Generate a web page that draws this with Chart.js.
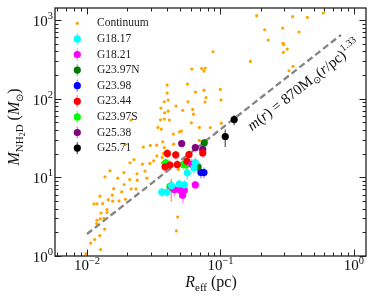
<!DOCTYPE html>
<html lang="en">
<head>
<meta charset="UTF-8">
<title>NH2D mass vs effective radius</title>
<script src="https://cdn.jsdelivr.net/npm/chart.js"></script>
<style>
    html, body { margin: 0; padding: 0; background: #fff; }
    #wrap { width: 374px; height: 302px; }
</style>
</head>
<body>
<div id="wrap"><canvas id="chart" width="374" height="302"></canvas></div>
<script>
// continuum cores: [R_eff (pc), M (Msun)]
const continuum = [
    [0.1867,1131],[0.3474,1098],[0.4470,1079],[0.5888,1224],[0.2923,788],[0.2144,750],[0.3873,702],
    [0.2281,555],[0.2938,504],[0.2974,486],[0.3165,426],[0.2953,387],[0.0879,394],[0.1677,297],
    [0.3493,257],[0.3260,226],[0.0609,237],[0.0723,241],[0.0769,244],[0.0752,224],[0.0566,153],
    [0.0398,148.5],[0.0650,121],[0.0752,128],[0.0997,131],[0.0398,117.5],[0.0779,103],[0.0766,90.3],
    [0.1009,96.3],[0.0406,95.7],[0.0379,91.1],[0.0571,91.1],[0.0358,75.7],[0.0464,80.3],[0.0521,71.0],
    [0.0619,72.9],[0.0628,63.5],[0.0382,66.0],[0.0406,69.3],[0.0605,49.2],[0.0694,43.0],[0.0839,42.8],
    [0.1014,48.8],[0.0694,29.4],[0.0509,38.6],[0.0355,53.7],[0.0379,54.9],[0.0414,53.3],[0.0340,43.0],
    [0.0360,40.9],[0.0214,53.3],[0.0444,35.4],[0.0493,37.8],[0.0446,26.4],[0.0333,25.6],[0.0379,23.9],
    [0.0264,24.2],[0.0298,25.4],[0.0194,26.2],[0.0369,28.2],[0.0210,15.3],[0.0225,16.8],[0.0260,14.7],
    [0.0316,16.2],[0.0366,17.9],[0.0366,15.3],[0.0334,18.7],[0.0373,20.1],[0.0296,15.0],[0.0237,11.1],
    [0.0272,12.0],[0.0238,9.19],[0.0281,9.74],[0.0483,12.6],[0.01487,12.1],[0.01364,10.1],[0.0170,9.74],
    [0.0189,11.5],[0.0209,9.38],[0.0190,8.10],[0.01585,7.16],[0.0214,7.12],[0.0233,7.12],[0.01547,5.92],
    [0.01251,5.75],[0.0182,6.52],[0.01444,5.19],[0.01558,4.97],[0.01737,5.01],[0.0194,5.26],[0.01311,4.64],
    [0.01128,4.59],[0.01188,4.61],[0.01412,3.89],[0.01412,3.57],[0.01273,3.52],[0.01188,2.85],[0.01258,2.96],
    [0.01341,3.02],[0.01182,2.58],[0.01357,2.19],[0.01245,1.82],[0.01142,1.62],[0.01066,1.46],[0.01266,1.21],
    [0.00983,1.07],[0.0478,3.13],[0.0467,2.08]
];

// NH2D cores: [R_eff, M, M_low, M_high]
const g1817 = [[0.0648,15.4,12.8,18.0],[0.0633,13.2,11.0,15.5],[0.0564,11.4,9.2,13.5],[0.0363,6.5,5.6,7.4],
               [0.0398,6.5,5.6,7.4],[0.0430,7.8,6.6,9.0],[0.0491,8.2,7.0,9.4],[0.0537,8.0,6.8,9.2]];
const g1821 = [[0.0609,14.6,11.8,17.2],[0.0648,8.0,7.0,9.0],[0.0452,7.0,5.7,8.3],[0.0497,6.9,5.5,8.0],
               [0.0536,6.9,5.8,8.0],[0.0521,5.9,4.7,7.0]];
const g2397N = [[0.0756,27.4,24.5,30.5],[0.0679,13.6,11.8,15.4]];
const g2398 = [[0.0714,11.5,9.7,13.3],[0.0752,11.5,9.7,13.3]];
const g2344 = [[0.0400,20.1,17.5,22.7],[0.0462,19.3,16.8,21.8],[0.0581,19.5,17.0,22.0],[0.0736,20.4,17.8,23.0],
               [0.0384,13.6,11.6,15.6],[0.0418,14.3,12.2,16.4],[0.0475,14.5,12.4,16.6],[0.0561,16.0,13.7,18.3],
               [0.0428,7.4,4.9,9.5]];
const g2397S = [[0.0389,15.3,13.0,17.6],[0.0526,14.5,12.5,16.5],[0.0552,14.4,12.4,16.4],[0.0418,7.7,6.6,8.8]];
const g2538 = [[0.0512,26.9,24.0,29.8],[0.0648,23.8,21.2,26.4],[0.0736,22.6,20.2,25.0]];
const g2571 = [[0.1266,54.1,46.0,61.7],[0.1086,33.0,24.3,40.5]];

const groupNames = ['G18.17', 'G18.21', 'G23.97N', 'G23.98', 'G23.44', 'G23.97S', 'G25.38', 'G25.71'];
const groupData = [g1817, g1821, g2397N, g2398, g2344, g2397S, g2538, g2571];
const groupColors = ['#00ffff', '#ff00ff', '#007a00', '#0000ff', '#ff0000', '#00ff00', '#800080', '#000000'];
const groupErrColors = ['rgba(0,200,220,0.45)', 'rgba(255,0,255,0.4)', 'rgba(0,122,0,0.4)', 'rgba(0,0,255,0.4)',
                        'rgba(255,0,0,0.4)', 'rgba(0,220,0,0.4)', 'rgba(128,0,128,0.4)', 'rgba(0,0,0,0.55)'];

// m(r) = 870 Msun (r/pc)^1.33
const fitCoef = 870;
const fitIndex = 1.33;
const fitRange = [0.01, 0.8];

const xMajor = [0.01, 0.1, 1];
const xExp = ['\u22122', '\u22121', '0'];
const yMajor = [1, 10, 100, 1000];
const yExp = ['0', '1', '2', '3'];

const SERIF = "'Liberation Serif', 'Times New Roman', serif";

function richWidth(ctx, parts) {
    let w = 0;
    parts.forEach(p => { ctx.font = p.f; w += ctx.measureText(p.t).width; });
    return w;
}
function drawRich(ctx, parts, x, y) {
    parts.forEach(p => {
        ctx.font = p.f;
        ctx.fillText(p.t, x, y + (p.dy || 0));
        x += ctx.measureText(p.t).width;
    });
}

// vertical error bars, below the markers
const errorBars = {
    id: 'errorBars',
    beforeDatasetsDraw(chart) {
        const {ctx, chartArea: a, scales: {x, y}} = chart;
        ctx.save();
        ctx.beginPath();
        ctx.rect(a.left, a.top, a.right - a.left, a.bottom - a.top);
        ctx.clip();
        ctx.lineWidth = 1.5;
        chart.data.datasets.forEach(ds => {
            if (!ds.lo) return;
            ctx.strokeStyle = ds.errColor;
            ds.data.forEach((p, i) => {
                const px = x.getPixelForValue(p.x);
                ctx.beginPath();
                ctx.moveTo(px, y.getPixelForValue(ds.lo[i]));
                ctx.lineTo(px, y.getPixelForValue(ds.hi[i]));
                ctx.stroke();
            });
        });
        ctx.restore();
    }
};

// frame, inward ticks, tick labels, axis titles, relation label
const frame = {
    id: 'frame',
    afterDraw(chart) {
        const {ctx, chartArea: a, scales: {x, y}} = chart;
        ctx.save();
        ctx.strokeStyle = '#222';
        ctx.lineWidth = 1.3;
        ctx.strokeRect(a.left, a.top, a.right - a.left, a.bottom - a.top);

        ctx.lineWidth = 1;
        const xTicks = [], yTicks = [];
        [0.001, 0.01, 0.1, 1].forEach(d => {
            for (let k = 1; k < 10; k++) xTicks.push([d * k, k === 1]);
        });
        [1, 10, 100, 1000].forEach(d => {
            for (let k = 1; k < 10; k++) yTicks.push([d * k, k === 1]);
        });
        xTicks.forEach(([v, major]) => {
            if (v < x.min || v > x.max) return;
            const px = Math.round(x.getPixelForValue(v)) + 0.5;
            const len = major ? 6.5 : 3.5;
            ctx.beginPath();
            ctx.moveTo(px, a.bottom); ctx.lineTo(px, a.bottom - len);
            ctx.moveTo(px, a.top); ctx.lineTo(px, a.top + len);
            ctx.stroke();
        });
        yTicks.forEach(([v, major]) => {
            if (v < y.min || v > y.max) return;
            const py = Math.round(y.getPixelForValue(v)) + 0.5;
            const len = major ? 6.5 : 3.5;
            ctx.beginPath();
            ctx.moveTo(a.left, py); ctx.lineTo(a.left + len, py);
            ctx.moveTo(a.right, py); ctx.lineTo(a.right - len, py);
            ctx.stroke();
        });

        ctx.fillStyle = '#111';
        ctx.textBaseline = 'alphabetic';
        ctx.textAlign = 'left';
        xMajor.forEach((v, i) => {
            const parts = [{t: '10', f: '15px ' + SERIF}, {t: xExp[i], f: '10.5px ' + SERIF, dy: -6}];
            const w = richWidth(ctx, parts);
            drawRich(ctx, parts, x.getPixelForValue(v) - w / 2, a.bottom + 14);
        });
        yMajor.forEach((v, i) => {
            const parts = [{t: '10', f: '15px ' + SERIF}, {t: yExp[i], f: '10.5px ' + SERIF, dy: -7}];
            const w = richWidth(ctx, parts);
            drawRich(ctx, parts, a.left - 2 - w, y.getPixelForValue(v) + 6);
        });

        // x title
        const xt = [{t: 'R', f: 'italic 16px ' + SERIF}, {t: 'eff', f: '11px ' + SERIF, dy: 3.5},
                    {t: ' (pc)', f: '16px ' + SERIF}];
        drawRich(ctx, xt, 211 - richWidth(ctx, xt) / 2, 287);

        // y title
        const yt = [{t: 'M', f: 'italic 16px ' + SERIF}, {t: 'NH', f: '11px ' + SERIF, dy: 3.5},
                    {t: '2', f: '8px ' + SERIF, dy: 6}, {t: 'D', f: '11px ' + SERIF, dy: 3.5},
                    {t: ' (', f: '16px ' + SERIF}, {t: 'M', f: 'italic 16px ' + SERIF},
                    {t: '\u2299', f: '10px ' + SERIF, dy: 3.5}, {t: ')', f: '16px ' + SERIF}];
        ctx.save();
        ctx.translate(19, 127);
        ctx.rotate(-Math.PI / 2);
        drawRich(ctx, yt, -richWidth(ctx, yt) / 2, 0);
        ctx.restore();

        // relation label along the dashed line
        const m0 = fitCoef * Math.pow(fitRange[0], fitIndex);
        const m1 = fitCoef * Math.pow(fitRange[1], fitIndex);
        const x0 = x.getPixelForValue(fitRange[0]), y0 = y.getPixelForValue(m0);
        const x1 = x.getPixelForValue(fitRange[1]), y1 = y.getPixelForValue(m1);
        const ang = Math.atan2(y1 - y0, x1 - x0);
        const rA = 0.138;
        const pax = x.getPixelForValue(rA), pay = y.getPixelForValue(fitCoef * Math.pow(rA, fitIndex));
        const off = 21;
        const lt = [{t: 'm', f: 'italic 15px ' + SERIF}, {t: '(', f: '15px ' + SERIF},
                    {t: 'r', f: 'italic 15px ' + SERIF}, {t: ') = 870M', f: '15px ' + SERIF},
                    {t: '\u2299', f: '9.5px ' + SERIF, dy: 3}, {t: '(', f: '15px ' + SERIF},
                    {t: 'r', f: 'italic 15px ' + SERIF}, {t: '/pc)', f: '15px ' + SERIF},
                    {t: '1.33', f: '10px ' + SERIF, dy: -6.5}];
        ctx.save();
        ctx.translate(pax - Math.sin(ang) * off, pay + Math.cos(ang) * off);
        ctx.rotate(ang);
        drawRich(ctx, lt, 0, 0);
        ctx.restore();

        // legend
        let ly = 23.3;
        chart.data.datasets.forEach(ds => {
            if (!ds.inLegend) return;
            const mx = 77.3;
            if (ds.lo) {
                ctx.strokeStyle = ds.errColor;
                ctx.lineWidth = 1.5;
                ctx.beginPath();
                ctx.moveTo(mx, ly - 6); ctx.lineTo(mx, ly + 6);
                ctx.stroke();
            }
            ctx.fillStyle = ds.backgroundColor;
            ctx.beginPath();
            ctx.arc(mx, ly, ds.pointRadius, 0, Math.PI * 2);
            ctx.fill();
            ctx.fillStyle = '#222';
            ctx.font = '11.5px ' + SERIF;
            ctx.textBaseline = 'middle';
            ctx.fillText(ds.label, 97, ly);
            ly += 15.6;
        });
        ctx.restore();
    }
};

const datasets = [{
    label: 'Continuum',
    data: continuum.map(p => ({x: p[0], y: p[1]})),
    backgroundColor: '#ffa500',
    pointRadius: 1.6,
    borderWidth: 0,
    order: 10,
    inLegend: true
}, {
    type: 'line',
    label: 'fit',
    data: fitRange.map(r => ({x: r, y: fitCoef * Math.pow(r, fitIndex)})),
    borderColor: '#858585',
    borderWidth: 2.3,
    borderDash: [6.5, 3.5],
    pointRadius: 0,
    fill: false,
    order: 8
}];
groupData.forEach((g, i) => {
    datasets.push({
        label: groupNames[i],
        data: g.map(p => ({x: p[0], y: p[1]})),
        lo: g.map(p => p[2]),
        hi: g.map(p => p[3]),
        errColor: groupErrColors[i],
        backgroundColor: groupColors[i],
        pointRadius: 3.6,
        borderWidth: 0,
        order: 1,
        inLegend: true
    });
});

new Chart(document.getElementById('chart'), {
    type: 'scatter',
    data: {datasets: datasets},
    options: {
        responsive: false,
        animation: false,
        devicePixelRatio: 1,
        events: [],
        layout: {padding: {left: 55, top: 8, right: 8, bottom: 46}},
        plugins: {legend: {display: false}, tooltip: {enabled: false}},
        scales: {
            x: {type: 'logarithmic', min: 0.00576, max: 1.23, display: false},
            y: {type: 'logarithmic', min: 1, max: 1417, display: false}
        }
    },
    plugins: [errorBars, frame]
});
</script>
</body>
</html>
